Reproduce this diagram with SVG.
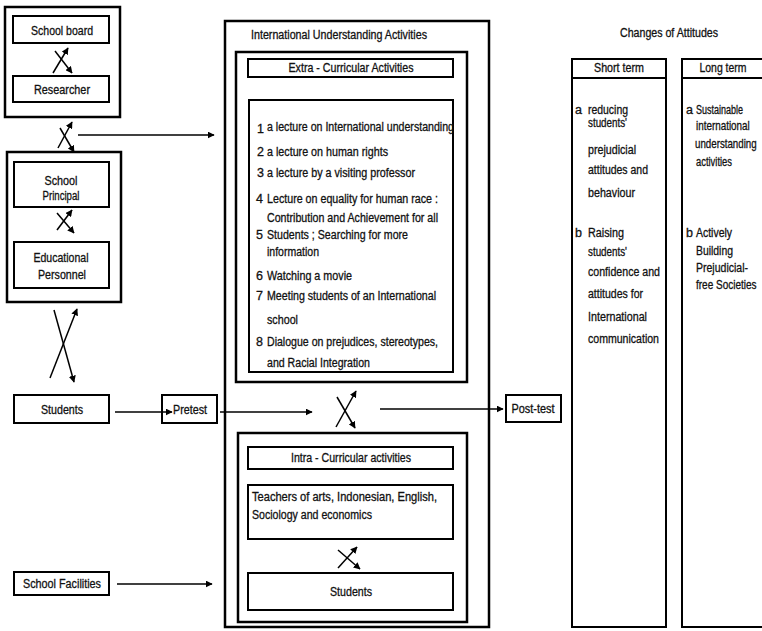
<svg xmlns="http://www.w3.org/2000/svg" width="762" height="631" viewBox="0 0 762 631">
<defs>
<marker id="ah" viewBox="0 0 10 10" refX="9" refY="5" markerWidth="7" markerHeight="7" markerUnits="userSpaceOnUse" orient="auto">
<path d="M0,0 L10,5 L0,10 z" fill="#000"/>
</marker>
<style>
text{font-family:"Liberation Sans",Arial,sans-serif;font-size:12.5px;fill:#111;stroke:#111;stroke-width:0.3}
.c{text-anchor:middle}
.b{fill:none;stroke:#000;stroke-width:2}
.bo{fill:none;stroke:#000;stroke-width:2.5}
.l{stroke:#000;stroke-width:1.5;fill:none}
.a{stroke:#000;stroke-width:1.5;fill:none;marker-end:url(#ah)}
</style>
</defs>
<rect width="762" height="631" fill="#fff"/>

<g id="group-board">
<rect class="bo" x="5" y="7" width="115" height="110"/>
</g>
<g id="school-board"><rect class="b" x="13" y="16" width="96" height="27"/><text x="62" y="35" textLength="62" lengthAdjust="spacingAndGlyphs" class="c">School board</text></g>
<g id="researcher"><rect class="b" x="13" y="76" width="96" height="26"/><text x="62" y="94" textLength="56" lengthAdjust="spacingAndGlyphs" class="c">Researcher</text></g>

<g id="group-school">
<rect class="bo" x="7" y="152" width="114" height="150"/>
</g>
<g id="school-principal"><rect class="b" x="14" y="162" width="95" height="45"/><text x="61" y="185" textLength="33" lengthAdjust="spacingAndGlyphs" class="c">School</text><text x="61" y="200" textLength="37" lengthAdjust="spacingAndGlyphs" class="c">Principal</text></g>
<g id="educational-personnel"><rect class="b" x="14" y="242" width="95" height="46"/><text x="61" y="262" textLength="55" lengthAdjust="spacingAndGlyphs" class="c">Educational</text><text x="62" y="279" textLength="48" lengthAdjust="spacingAndGlyphs" class="c">Personnel</text></g>

<g id="students-left"><rect class="b" x="14" y="395" width="95" height="28"/><text x="62" y="414" textLength="42" lengthAdjust="spacingAndGlyphs" class="c">Students</text></g>
<g id="pretest"><rect class="b" x="162" y="395" width="55" height="28"/><text x="190" y="414" textLength="34" lengthAdjust="spacingAndGlyphs" class="c">Pretest</text></g>
<g id="school-facilities"><rect class="b" x="14" y="572" width="95" height="23"/><text x="62" y="588" textLength="78" lengthAdjust="spacingAndGlyphs" class="c">School Facilities</text></g>

<g id="activities">
<rect class="bo" x="225" y="21" width="264" height="606"/>
<text x="251" y="39" textLength="176" lengthAdjust="spacingAndGlyphs">International Understanding Activities</text>
</g>
<g id="extra-curricular">
<rect class="bo" x="236" y="52" width="231" height="330"/>
<rect class="b" x="248" y="59" width="205" height="18"/>
<text x="351" y="72" textLength="125" lengthAdjust="spacingAndGlyphs" class="c">Extra - Curricular Activities</text>
</g>
<g id="extra-list">
<rect class="b" x="249" y="100" width="204" height="272"/>
<text x="257" y="133">1</text><text x="267" y="131" textLength="187" lengthAdjust="spacingAndGlyphs">a lecture on International understanding</text>
<text x="257" y="156">2</text><text x="267" y="156" textLength="121" lengthAdjust="spacingAndGlyphs">a lecture on human rights</text>
<text x="257" y="177">3</text><text x="267" y="177" textLength="148" lengthAdjust="spacingAndGlyphs">a lecture by a visiting professor</text>
<text x="256" y="203">4</text><text x="267" y="203" textLength="171" lengthAdjust="spacingAndGlyphs">Lecture on equality for human race :</text>
<text x="267" y="222" textLength="171" lengthAdjust="spacingAndGlyphs">Contribution and Achievement for all</text>
<text x="256" y="239">5</text><text x="267" y="239" textLength="141" lengthAdjust="spacingAndGlyphs">Students ; Searching for more</text>
<text x="267" y="256" textLength="52" lengthAdjust="spacingAndGlyphs">information</text>
<text x="256" y="280">6</text><text x="267" y="280" textLength="85" lengthAdjust="spacingAndGlyphs">Watching a movie</text>
<text x="256" y="300">7</text><text x="267" y="300" textLength="169" lengthAdjust="spacingAndGlyphs">Meeting students of an International</text>
<text x="267" y="324" textLength="31" lengthAdjust="spacingAndGlyphs">school</text>
<text x="256" y="346">8</text><text x="267" y="346" textLength="171" lengthAdjust="spacingAndGlyphs">Dialogue on prejudices, stereotypes,</text>
<text x="267" y="367" textLength="103" lengthAdjust="spacingAndGlyphs">and Racial Integration</text>
</g>

<g id="intra-curricular">
<rect class="bo" x="238" y="433" width="229" height="189"/>
<rect class="b" x="248" y="447" width="205" height="22"/>
<text x="351" y="462" textLength="120" lengthAdjust="spacingAndGlyphs" class="c">Intra - Curricular activities</text>
</g>
<g id="teachers"><rect class="b" x="248" y="485" width="205" height="54"/>
<text x="252" y="501" textLength="185" lengthAdjust="spacingAndGlyphs">Teachers of arts, Indonesian, English,</text>
<text x="252" y="519" textLength="120" lengthAdjust="spacingAndGlyphs">Sociology and economics</text></g>
<g id="students-intra"><rect class="b" x="248" y="573" width="205" height="37"/><text x="351" y="596" textLength="42" lengthAdjust="spacingAndGlyphs" class="c">Students</text></g>

<g id="post-test"><rect class="b" x="506" y="395" width="55" height="27"/><text x="533" y="413" textLength="43" lengthAdjust="spacingAndGlyphs" class="c">Post-test</text></g>

<g id="changes-title"><text x="669" y="37" textLength="98" lengthAdjust="spacingAndGlyphs" class="c">Changes of Attitudes</text></g>
<g id="short-term">
<rect class="b" x="572" y="59" width="94" height="568"/>
<line class="l" x1="572" y1="78" x2="666" y2="78" style="stroke-width:2"/>
<text x="619" y="72" textLength="50" lengthAdjust="spacingAndGlyphs" class="c">Short term</text>
<text x="575" y="114">a</text>
<text x="588" y="114" textLength="40" lengthAdjust="spacingAndGlyphs">reducing</text>
<text x="588" y="127" textLength="39" lengthAdjust="spacingAndGlyphs">students'</text>
<text x="588" y="154" textLength="48" lengthAdjust="spacingAndGlyphs">prejudicial</text>
<text x="588" y="174" textLength="60" lengthAdjust="spacingAndGlyphs">attitudes and</text>
<text x="588" y="197" textLength="47" lengthAdjust="spacingAndGlyphs">behaviour</text>
<text x="575" y="237">b</text>
<text x="588" y="237" textLength="36" lengthAdjust="spacingAndGlyphs">Raising</text>
<text x="588" y="256" textLength="39" lengthAdjust="spacingAndGlyphs">students'</text>
<text x="588" y="276" textLength="72" lengthAdjust="spacingAndGlyphs">confidence and</text>
<text x="588" y="298" textLength="55" lengthAdjust="spacingAndGlyphs">attitudes for</text>
<text x="588" y="321" textLength="59" lengthAdjust="spacingAndGlyphs">International</text>
<text x="588" y="343" textLength="71" lengthAdjust="spacingAndGlyphs">communication</text>
</g>
<g id="long-term">
<rect class="b" x="682" y="59" width="100" height="568"/>
<line class="l" x1="682" y1="78" x2="762" y2="78" style="stroke-width:2"/>
<text x="723" y="72" textLength="47" lengthAdjust="spacingAndGlyphs" class="c">Long term</text>
<text x="686" y="114">a</text>
<text x="696" y="114" textLength="47" lengthAdjust="spacingAndGlyphs">Sustainable</text>
<text transform="translate(696,130) scale(0.79,1)">international</text>
<text transform="translate(695,148) scale(0.78,1)">understanding</text>
<text x="696" y="166" textLength="36" lengthAdjust="spacingAndGlyphs">activities</text>
<text x="686" y="237">b</text>
<text x="696" y="237" textLength="36" lengthAdjust="spacingAndGlyphs">Actively</text>
<text x="696" y="255" textLength="37" lengthAdjust="spacingAndGlyphs">Building</text>
<text x="696" y="272" textLength="52" lengthAdjust="spacingAndGlyphs">Prejudicial-</text>
<text transform="translate(696,289) scale(0.8,1)">free Societies</text>
</g>

<g id="connectors">
<line class="a" x1="53" y1="73" x2="68" y2="48"/>
<line class="a" x1="55" y1="51" x2="72" y2="73"/>
<line class="a" x1="58" y1="148" x2="72" y2="122"/>
<line class="a" x1="60" y1="128" x2="74" y2="152"/>
<line class="a" x1="78" y1="135" x2="214" y2="135"/>
<line class="a" x1="57" y1="230" x2="72" y2="210"/>
<line class="a" x1="57" y1="213" x2="74" y2="233"/>
<line class="a" x1="50" y1="378" x2="77" y2="309"/>
<line class="a" x1="54" y1="310" x2="74" y2="382"/>
<line class="a" x1="115" y1="412" x2="172" y2="412"/>
<line class="a" x1="220" y1="412" x2="312" y2="412"/>
<line class="a" x1="336" y1="427" x2="356" y2="391"/>
<line class="a" x1="337" y1="397" x2="355" y2="428"/>
<line class="a" x1="380" y1="409" x2="503" y2="409"/>
<line class="a" x1="117" y1="584" x2="212" y2="584"/>
<line class="a" x1="338" y1="568" x2="357" y2="547"/>
<line class="a" x1="338" y1="550" x2="360" y2="569"/>
</g>
</svg>
